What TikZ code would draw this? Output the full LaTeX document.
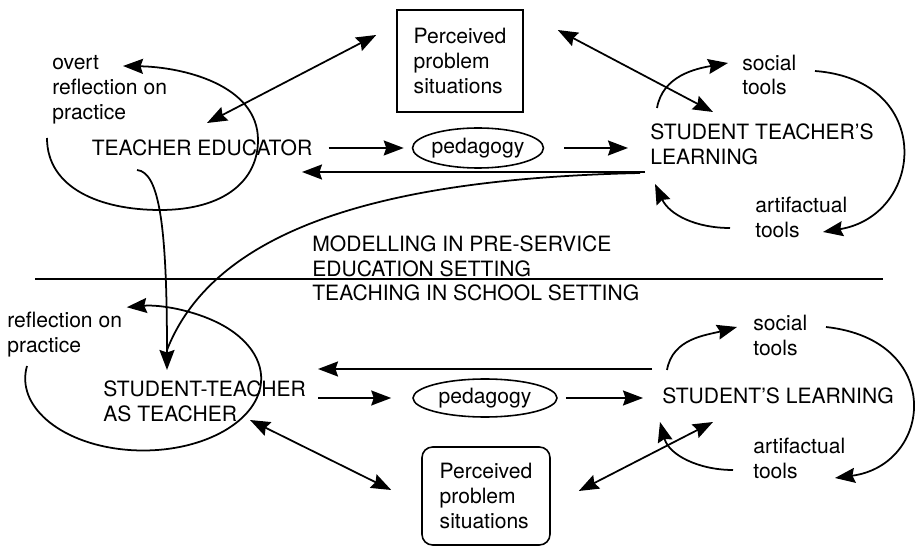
\documentclass[tikz,border=0pt]{standalone}
\usepackage{fontspec}
\setmainfont{TeX Gyre Heros}
\usetikzlibrary{arrows.meta, shapes.geometric, calc}

\begin{document}
\begin{tikzpicture}[
    x=0.02cm, y=0.02cm,
    lbl/.style={inner sep=0pt, align=left, font=\fontsize{12}{14.2}\selectfont},
    box/.style={draw, line width=0.9pt, inner sep=0pt, align=left, font=\fontsize{12}{14.2}\selectfont},
    ped/.style={ellipse, draw, line width=0.9pt, inner sep=0pt, font=\fontsize{12}{14.2}\selectfont},
    tip/.tip={Stealth[length=0.4cm, width=0.3cm, inset=0.05cm]},
    arr/.style={-tip, line width=1pt},
    dbl/.style={tip-tip, line width=1pt}
]
\useasboundingbox (0,0) rectangle (917,-547);

% Pre-service setting
\node[box, minimum width=2.52cm, minimum height=2.04cm] (ppTop) at (460,-61) {Perceived\\problem\\situations};
\node[lbl, anchor=west] (overt) at (52,-90) {overt\\reflection on\\practice};
\node[lbl] (te) at (202,-148) {TEACHER EDUCATOR};
\node[ped, minimum width=2.54cm, minimum height=0.8cm] (pedTop) at (478,-148) {pedagogy};
\node[lbl, anchor=west] (stl) at (650,-144) {STUDENT TEACHER'S\\LEARNING};
\node[lbl, anchor=west] (socTop) at (742,-75) {social\\tools};
\node[lbl, anchor=west] (artTop) at (755,-217) {artifactual\\tools};

% Setting labels and divider
\node[lbl, anchor=west] (model) at (312,-256) {MODELLING IN PRE-SERVICE\\EDUCATION SETTING};
\node[lbl, anchor=west] (teach) at (312,-293) {TEACHING IN SCHOOL SETTING};
\draw[line width=0.6pt] (35,-279) -- (883,-279);

% School setting
\node[lbl, anchor=west] (refl) at (7,-335) {reflection on\\practice};
\node[lbl, anchor=west] (stt) at (103,-401) {STUDENT-TEACHER\\AS TEACHER};
\node[ped, minimum width=2.88cm, minimum height=0.76cm] (pedBot) at (485,-398) {pedagogy};
\node[lbl, anchor=west] (sl) at (662,-396) {STUDENT'S LEARNING};
\node[lbl, anchor=west] (socBot) at (753,-335) {social\\tools};
\node[lbl, anchor=west] (artBot) at (753,-458) {artifactual\\tools};
\node[box, rounded corners=6pt, minimum width=2.56cm, minimum height=1.96cm] (ppBot) at (486,-496) {Perceived\\problem\\situations};

% Arrows, upper half
\draw[arr] ($(overt.west)+(-5,-48)$) .. controls +(0,-50) and +(-60,0) .. ($(te)+(-42,-62)$)
    .. controls +(65,0) and +(0,-40) .. ($(te)+(56,8)$)
    .. controls +(0,55) and +(60,-1) .. ($(overt.west)+(71,24)$);
\draw[dbl] ($(ppTop.west)+(-20,26)$) -- ($(te)+(5,25)$);
\draw[dbl] ($(ppTop.east)+(34,31)$) -- ($(stl.west)+(63,32)$);
\draw[arr, shorten <=0.32cm, shorten >=0.16cm] (te.east) -- (pedTop.west);
\draw[arr, shorten <=0.4cm, shorten >=0.44cm] (pedTop.east) -- (pedTop.east -| stl.west);
\draw[arr] ($(stl.west)+(-5,-28)$) -- ($(te)+(100,-24)$);
\draw[arr] ($(stl.west)+(7,36)$) to[out=80, in=190] ($(socTop.west)+(-14,12)$);
\draw[arr] ($(socTop.west)+(73,4)$) .. controls +(120,-9) and +(102,17) .. ($(artTop.west)+(68,-15)$);
\draw[arr] ($(artTop.west)+(-25,-11)$) to[out=180, in=-65] ($(stl.west)+(5,-40)$);

% Arrows across the divider
\draw[arr] ($(te)+(-65,-22)$) .. controls +(23,-2) and +(0,140) .. ($(stt.west)+(64,31)$);
\draw[line width=1pt] ($(stl.west)+(-10,-29)$) .. controls +(-220,-5) and +(53,135) .. ($(stt.west)+(64,51)$);

% Arrows, lower half
\draw[arr] ($(refl.west)+(20,-31)$) arc[start angle=170, end angle=458, x radius=118, y radius=72];
\draw[arr] ($(sl.west)+(-10,27)$) -- ($(stt.west)+(215,32)$);
\draw[arr, shorten >=0.42cm] ($(stt.west)+(215,3)$) -- (pedBot.west);
\draw[arr, shorten <=0.16cm, shorten >=0.38cm] (pedBot.east) -- (pedBot.east -| sl.west);
\draw[arr] ($(sl.west)+(5,26)$) to[out=80, in=195] ($(socBot.west)+(-16,8)$);
\draw[arr] ($(socBot.west)+(73,8)$) .. controls +(119,-13) and +(98,13) .. ($(artBot.west)+(82,-20)$);
\draw[arr] ($(artBot.west)+(-20,-12)$) to[out=180, in=-75] ($(sl.west)+(-2,-26)$);
\draw[dbl] ($(ppBot.east)+(28,5)$) -- ($(sl.west)+(51,-26)$);
\draw[dbl] ($(stt.west)+(147,-19)$) -- ($(ppBot.west)+(-30,6)$);

\end{tikzpicture}
\end{document}
